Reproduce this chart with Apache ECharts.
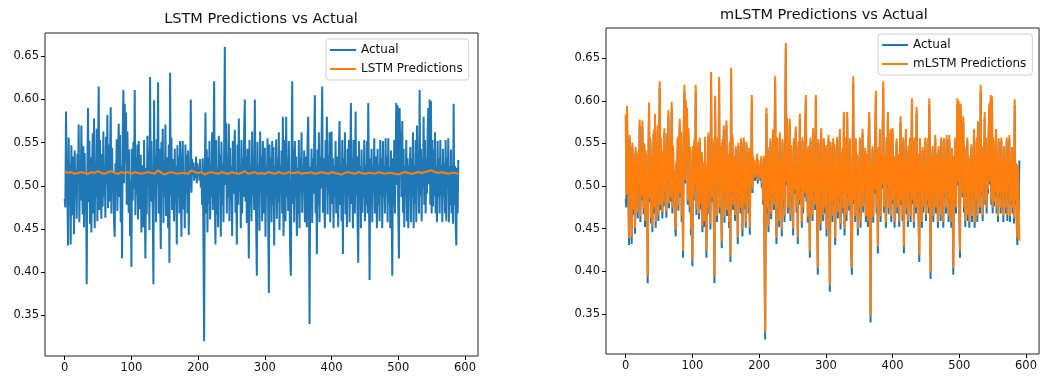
<!DOCTYPE html>
<html>
<head>
<meta charset="utf-8">
<script src="https://cdn.jsdelivr.net/npm/echarts@6/dist/echarts.min.js"></script>
<style>
html,body{margin:0;padding:0;background:#fff;}
#c{width:1040px;height:378px;}
</style>
</head>
<body>
<div id="c"></div>
<script>
// Actual series (index 0..590)
var actual = [
.485,.475,.586,.512,.497,.431,.556,.478,.526,.432,
.547,.503,.466,.534,.444,.541,.488,.519,.462,.537,
.503,.571,.458,.528,.483,.570,.511,.467,.546,.452,
.538,.473,.512,.386,.523,.590,.481,.552,.456,.533,
.446,.519,.561,.468,.578,.451,.527,.487,.566,.459,
.541,.615,.472,.553,.493,.462,.537,.476,.563,.488,
.522,.463,.557,.501,.582,.474,.548,.482,.533,.591,
.468,.544,.493,.515,.457,.441,.526,.498,.554,.471,
.531,.572,.487,.559,.458,.523,.416,.562,.611,.503,
.595,.527,.585,.478,.563,.518,.469,.542,.442,.506,
.406,.543,.483,.551,.497,.611,.466,.532,.491,.548,
.461,.552,.498,.473,.536,.446,.524,.488,.452,.553,
.479,.416,.521,.467,.558,.502,.541,.449,.626,.482,
.552,.497,.471,.386,.599,.488,.534,.458,.554,.501,
.620,.468,.543,.492,.427,.551,.503,.566,.457,.529,
.487,.571,.465,.533,.506,.451,.548,.411,.631,.489,
.556,.472,.531,.497,.459,.543,.481,.523,.432,.547,
.486,.534,.468,.552,.503,.441,.521,.552,.473,.512,
.451,.548,.492,.536,.468,.541,.443,.522,.498,.600,
.492,.531,.512,.527,.506,.522,.509,.534,.503,.526,
.511,.519,.506,.531,.498,.516,.478,.532,.431,.320,
.503,.585,.468,.542,.446,.533,.479,.552,.461,.524,
.487,.562,.472,.534,.621,.488,.432,.553,.467,.521,
.452,.558,.493,.536,.441,.551,.478,.526,.458,.543,
.661,.501,.573,.468,.533,.487,.572,.459,.544,.482,
.523,.442,.552,.491,.534,.565,.469,.513,.432,.548,
.478,.578,.493,.524,.451,.553,.468,.532,.487,.562,
.600,.482,.534,.457,.543,.502,.416,.553,.478,.523,
.459,.563,.488,.532,.472,.600,.498,.458,.396,.551,
.481,.524,.448,.563,.492,.534,.459,.552,.501,.468,
.544,.441,.523,.489,.555,.469,.376,.548,.492,.533,
.458,.552,.478,.545,.431,.523,.487,.554,.462,.532,
.481,.562,.449,.524,.492,.541,.468,.580,.442,.503,
.553,.459,.580,.487,.532,.471,.552,.493,.421,.396,
.523,.621,.479,.543,.458,.552,.487,.534,.442,.521,
.468,.553,.451,.532,.492,.562,.469,.523,.498,.541,
.458,.534,.489,.452,.553,.580,.501,.340,.522,.478,
.543,.457,.532,.491,.551,.605,.468,.523,.421,.542,
.478,.562,.458,.533,.497,.553,.615,.469,.532,.488,
.451,.553,.498,.580,.467,.534,.491,.562,.458,.523,
.563,.479,.532,.451,.524,.487,.552,.468,.534,.503,
.452,.543,.575,.478,.523,.459,.553,.421,.532,.491,
.562,.467,.524,.452,.543,.488,.553,.458,.521,.596,
.479,.532,.451,.553,.497,.468,.586,.489,.534,.457,
.411,.552,.488,.523,.451,.542,.469,.512,.487,.553,
.459,.524,.478,.552,.468,.596,.503,.391,.532,.479,
.543,.458,.523,.492,.555,.468,.534,.502,.451,.543,
.478,.524,.459,.553,.489,.532,.451,.552,.487,.523,
.468,.555,.491,.534,.458,.555,.479,.522,.451,.541,
.487,.396,.532,.478,.553,.468,.524,.596,.501,.593,
.468,.416,.590,.532,.562,.487,.575,.469,.543,.452,
.523,.488,.553,.459,.532,.451,.524,.498,.545,.458,
.532,.487,.562,.451,.524,.479,.553,.458,.570,.502,
.523,.468,.611,.489,.543,.459,.532,.498,.580,.478,
.553,.468,.532,.491,.562,.590,.502,.600,.478,.598,
.468,.553,.476,.542,.488,.562,.468,.523,.458,.552,
.487,.532,.468,.553,.489,.524,.458,.543,.487,.526,
.468,.553,.459,.532,.501,.555,.458,.523,.478,.542,
.468,.524,.456,.595,.478,.523,.459,.431,.521,.468,
.530
];

// LSTM predictions, sampled every 5 steps (0,5,...,590)
var lstmStep = 5;
var lstmPred = [
.517,.515,.516,.514,.515,.516,.515,.514,.516,.515,
.517,.515,.514,.516,.517,.515,.514,.516,.515,.516,
.514,.516,.515,.514,.515,.516,.515,.514,.518,.515,
.513,.515,.516,.515,.514,.515,.515,.514,.518,.516,
.515,.516,.513,.515,.516,.515,.514,.516,.515,.514,
.516,.515,.514,.515,.517,.514,.515,.516,.514,.515,
.514,.516,.515,.514,.516,.515,.514,.516,.515,.515,
.516,.514,.515,.515,.516,.514,.515,.516,.515,.514,
.516,.515,.514,.513,.515,.516,.515,.514,.516,.515,
.514,.515,.515,.514,.516,.515,.514,.515,.515,.514,
.513,.515,.516,.515,.514,.515,.516,.515,.516,.517,
.518,.516,.515,.516,.515,.514,.515,.515,.514
];

// mLSTM predictions (index 0..590)
var mlstmPred = [
.584,.490,.594,.515,.502,.439,.560,.484,.530,.440,
.551,.507,.473,.538,.451,.546,.493,.523,.469,.541,
.507,.578,.465,.532,.488,.577,.515,.474,.550,.459,
.542,.479,.516,.394,.527,.598,.486,.556,.463,.537,
.453,.523,.566,.475,.585,.458,.531,.492,.571,.466,
.545,.623,.478,.557,.498,.469,.541,.482,.568,.493,
.526,.470,.562,.505,.589,.480,.552,.487,.537,.599,
.475,.548,.498,.519,.464,.449,.530,.503,.558,.477,
.535,.579,.492,.564,.465,.527,.424,.567,.619,.507,
.602,.531,.592,.483,.568,.522,.476,.546,.450,.510,
.414,.547,.488,.555,.502,.619,.473,.536,.496,.552,
.468,.557,.503,.479,.540,.453,.528,.493,.459,.558,
.484,.424,.525,.474,.563,.506,.545,.456,.634,.487,
.556,.502,.477,.394,.606,.493,.538,.465,.558,.505,
.628,.475,.547,.497,.435,.555,.507,.571,.464,.533,
.492,.577,.472,.537,.510,.458,.552,.419,.639,.494,
.560,.478,.535,.502,.466,.547,.486,.527,.440,.551,
.491,.538,.475,.556,.507,.449,.525,.557,.479,.516,
.458,.552,.497,.540,.475,.545,.451,.526,.503,.607,
.497,.535,.516,.531,.510,.526,.513,.538,.507,.530,
.515,.523,.510,.535,.503,.520,.483,.536,.439,.329,
.507,.592,.475,.546,.453,.537,.484,.556,.468,.528,
.492,.567,.478,.538,.629,.493,.440,.557,.474,.525,
.459,.563,.498,.540,.449,.555,.483,.530,.465,.547,
.668,.505,.580,.475,.537,.492,.579,.466,.548,.487,
.527,.450,.556,.496,.538,.570,.476,.517,.440,.552,
.483,.585,.498,.528,.458,.557,.475,.536,.492,.567,
.607,.487,.538,.464,.547,.506,.424,.557,.483,.527,
.466,.568,.493,.536,.478,.607,.503,.465,.404,.555,
.486,.528,.455,.568,.497,.538,.466,.556,.505,.475,
.548,.449,.527,.494,.560,.476,.384,.552,.497,.537,
.465,.556,.483,.549,.439,.527,.492,.558,.469,.536,
.486,.567,.456,.528,.497,.545,.475,.587,.450,.507,
.557,.466,.587,.492,.536,.477,.556,.498,.429,.404,
.527,.629,.484,.547,.465,.556,.492,.538,.450,.525,
.475,.557,.458,.536,.497,.567,.476,.527,.503,.545,
.465,.538,.494,.459,.557,.587,.505,.348,.526,.483,
.547,.464,.536,.496,.555,.612,.475,.527,.429,.546,
.483,.567,.465,.537,.502,.557,.623,.476,.536,.493,
.458,.557,.503,.587,.474,.538,.496,.567,.465,.527,
.568,.484,.536,.458,.528,.492,.556,.475,.538,.507,
.459,.547,.582,.483,.527,.466,.557,.429,.536,.496,
.567,.474,.528,.459,.547,.493,.557,.465,.525,.603,
.484,.536,.458,.557,.502,.475,.593,.494,.538,.464,
.419,.556,.493,.527,.458,.546,.476,.516,.492,.557,
.466,.528,.483,.556,.475,.603,.507,.399,.536,.484,
.547,.465,.527,.497,.560,.475,.538,.506,.458,.547,
.483,.528,.466,.557,.494,.536,.458,.556,.492,.527,
.475,.560,.496,.538,.465,.560,.484,.526,.458,.545,
.492,.404,.536,.483,.557,.475,.528,.603,.505,.600,
.475,.424,.597,.536,.567,.492,.582,.476,.547,.459,
.527,.493,.557,.466,.536,.458,.528,.503,.549,.465,
.536,.492,.567,.458,.528,.484,.557,.465,.576,.506,
.527,.475,.619,.494,.547,.466,.536,.503,.587,.483,
.557,.475,.536,.496,.567,.597,.506,.607,.483,.605,
.475,.557,.482,.546,.493,.567,.475,.527,.465,.556,
.492,.536,.475,.557,.494,.528,.465,.547,.492,.530,
.475,.557,.466,.536,.505,.560,.465,.527,.483,.546,
.475,.528,.463,.602,.483,.527,.466,.439,.525,.475,
.436
];

var xTicks = [0, 100, 200, 300, 400, 500, 600];
var yTicks = [0.35, 0.40, 0.45, 0.50, 0.55, 0.60, 0.65];
var titles = ['LSTM Predictions vs Actual', 'mLSTM Predictions vs Actual'];
var names = ['Actual', 'LSTM Predictions', 'mLSTM Predictions'];

var BLUE = '#1f77b4', ORANGE = '#ff7f0e';
var FONT = 'DejaVu Sans';

function pairs(arr, step) {
  return arr.map(function (v, i) { return [i * step, v]; });
}

function xAxis(idx) {
  return {
    type: 'value', gridIndex: idx, min: -29.5, max: 619.5,
    splitLine: { show: false },
    axisLine: { show: false, onZero: false },
    axisTick: { show: true, customValues: xTicks, length: 4, lineStyle: { color: '#000', width: 1 } },
    axisLabel: { customValues: xTicks, color: '#111', fontFamily: FONT, fontSize: 11.5, margin: 6 }
  };
}
function yAxis(idx, max) {
  return {
    type: 'value', gridIndex: idx, min: 0.303, max: max,
    splitLine: { show: false },
    axisLine: { show: false, onZero: false },
    axisTick: { show: true, customValues: yTicks, length: 4, lineStyle: { color: '#000', width: 1 } },
    axisLabel: { customValues: yTicks, color: '#111', fontFamily: FONT, fontSize: 11.5, margin: 6,
      formatter: function (v) { return v.toFixed(2); } }
  };
}
function legend(left, top, items) {
  return {
    left: left, top: top, orient: 'vertical', data: items,
    icon: 'rect', itemWidth: 26, itemHeight: 2, itemGap: 5,
    padding: [4, 6, 4, 4],
    borderColor: '#d0d0d0', borderWidth: 1, borderRadius: 3,
    backgroundColor: 'rgba(255,255,255,0.8)',
    textStyle: { fontFamily: FONT, fontSize: 12, color: '#111', lineHeight: 14 }
  };
}
function line(name, data, color, xi, z) {
  return {
    name: name, type: 'line', xAxisIndex: xi, yAxisIndex: xi, data: data,
    showSymbol: false, symbol: 'none', z: z,
    lineStyle: { color: color, width: 2 }, itemStyle: { color: color }
  };
}

var chart = echarts.init(document.getElementById('c'), null, { renderer: 'canvas' });
chart.setOption({
  animation: false,
  backgroundColor: '#fff',
  title: [
    { text: titles[0], left: 261, top: 12, textAlign: 'center', padding: 0,
      textStyle: { fontFamily: FONT, fontSize: 14.5, fontWeight: 'normal', color: '#111' } },
    { text: titles[1], left: 824, top: 7.5, textAlign: 'center', padding: 0,
      textStyle: { fontFamily: FONT, fontSize: 14.5, fontWeight: 'normal', color: '#111' } }
  ],
  grid: [
    { left: 45, top: 33, width: 433, height: 323, show: true, borderColor: '#222', borderWidth: 1, backgroundColor: 'transparent' },
    { left: 606, top: 28, width: 437, height: 326, show: true, borderColor: '#222', borderWidth: 1, backgroundColor: 'transparent' }
  ],
  xAxis: [xAxis(0), xAxis(1)],
  yAxis: [yAxis(0, 0.677), yAxis(1, 0.6855)],
  legend: [
    legend(326, 39, [names[0], names[1]]),
    legend(878, 34, [names[0], names[2]])
  ],
  series: [
    line(names[0], pairs(actual, 1), BLUE, 0, 2),
    line(names[1], pairs(lstmPred, lstmStep), ORANGE, 0, 3),
    line(names[0], pairs(actual, 1), BLUE, 1, 2),
    line(names[2], pairs(mlstmPred, 1), ORANGE, 1, 3)
  ]
});
</script>
</body>
</html>
